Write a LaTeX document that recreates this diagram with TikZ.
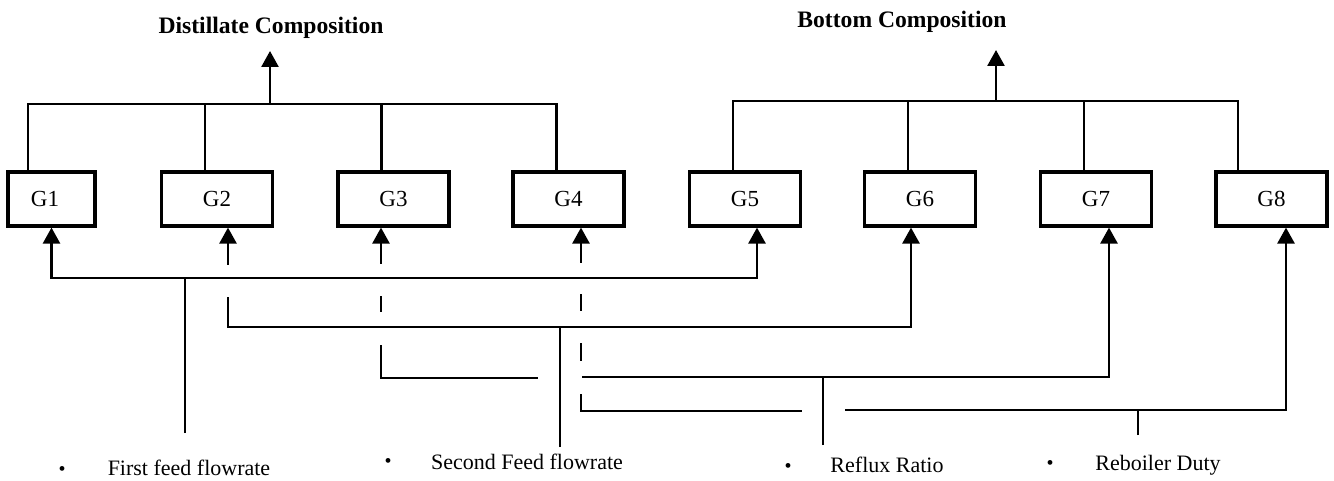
\documentclass[tikz,border=0pt]{standalone}
\usepackage{fontspec}
\setmainfont{Liberation Serif}
\usetikzlibrary{arrows.meta}
\begin{document}
\begin{tikzpicture}[x=0.5pt,y=-0.5pt,
  wire/.style={line width=1.3pt},
  arr/.style={wire,-{Triangle[length=8pt,width=8.5pt]}},
  gbox/.style={draw,line width=1.6pt,minimum width=55.5pt,minimum height=27pt,inner sep=0pt,
    font=\fontsize{11.5}{13}\selectfont},
  ttl/.style={inner sep=0pt,font=\fontsize{11.8}{14}\selectfont\bfseries},
  lbl/.style={inner sep=0pt,font=\fontsize{11}{13}\selectfont},
  bul/.style={inner sep=0pt,font=\fontsize{10}{11}\selectfont}]
\useasboundingbox (0,0) rectangle (1334,481);

% titles
\node[ttl] (dc) at (271,28) {Distillate Composition};
\node[ttl] (bc) at (902,22) {Bottom Composition};

% boxes
\node[gbox,minimum width=43.5pt] (g1) at (51.5,199) {G1\hspace*{6.5pt}};
\node[gbox] (g2) at (217,199) {G2};
\node[gbox] (g3) at (393.5,199) {G3};
\node[gbox] (g4) at (568.5,199) {G4};
\node[gbox] (g5) at (745,199) {G5};
\node[gbox] (g6) at (920,199) {G6};
\node[gbox] (g7) at (1096,199) {G7};
\node[gbox] (g8) at (1271.5,199) {G8};

% output trees
\coordinate (dbar) at (270,104);
\coordinate (dtip) at (270,51);
\coordinate (bbar) at (996,101);
\coordinate (btip) at (996,50);
\draw[wire] ([xshift=-11.75pt]g1.north) |- (dbar) -| ([xshift=-6pt]g4.north);
\draw[wire] ([xshift=-6pt]g2.north) |- (dbar);
\draw[wire] ([xshift=-6pt]g3.north) |- (dbar);
\draw[arr] (dbar) -- (dtip);
\draw[wire] ([xshift=-6pt]g5.north) |- (bbar) -| ([xshift=-16.75pt]g8.north);
\draw[wire] ([xshift=-6pt]g6.north) |- (bbar);
\draw[wire] ([xshift=-6pt]g7.north) |- (bbar);
\draw[arr] (bbar) -- (btip);

% first feed flowrate
\coordinate (fa) at (185,278);
\coordinate (ff) at (185,433);
\draw[wire] (ff) -- (fa);
\draw[arr] (fa) -| (g1.south);
\draw[arr] (fa) -| ([xshift=6pt]g5.south);

% short arrows into G2, G3, G4
\draw[arr] ([xshift=5.5pt,yshift=-18.5pt]g2.south) -- ([xshift=5.5pt]g2.south);
\draw[arr] ([xshift=-6.25pt,yshift=-18pt]g3.south) -- ([xshift=-6.25pt]g3.south);
\draw[arr] ([xshift=6.25pt,yshift=-17.5pt]g4.south) -- ([xshift=6.25pt]g4.south);

% second feed flowrate
\coordinate (s2) at (228,297);
\coordinate (sa) at (560,327);
\coordinate (sf) at (560,447);
\draw[wire] (s2) |- (sa);
\draw[wire] (sf) -- (sa);
\draw[arr] (sa) -| ([xshift=-4.5pt]g6.south);

% reflux ratio
\coordinate (d3a) at (381,296);
\coordinate (d3b) at (381,312);
\draw[wire] (d3a) -- (d3b);
\coordinate (r3) at (381,345);
\coordinate (r3e) at (538,378);
\draw[wire] (r3) |- (r3e);
\coordinate (r3s) at (582,377);
\coordinate (ra) at (823,377);
\coordinate (rf) at (823,445);
\draw[wire] (r3s) -- (ra);
\draw[wire] (rf) -- (ra);
\draw[arr] (ra) -| ([xshift=6.5pt]g7.south);

% reboiler duty
\coordinate (d4a) at (581,294);
\coordinate (d4b) at (581,311);
\coordinate (d4c) at (581,343);
\coordinate (d4d) at (581,361);
\draw[wire] (d4a) -- (d4b);
\draw[wire] (d4c) -- (d4d);
\coordinate (q4) at (581,394);
\coordinate (q4e) at (802,411);
\draw[wire] (q4) |- (q4e);
\coordinate (q4s) at (845,410);
\coordinate (qa) at (1138,410);
\coordinate (qf) at (1138,435);
\draw[wire] (q4s) -- (qa);
\draw[wire] (qf) -- (qa);
\draw[arr] (qa) -| ([xshift=7.25pt]g8.south);

% labels
\node[bul] (b1) at (62,471) {\textbullet};
\node[lbl] (l1) at (189,468) {First feed flowrate};
\node[bul] (b2) at (388,463) {\textbullet};
\node[lbl] (l2) at (527,462) {Second Feed flowrate};
\node[bul] (b3) at (788,468) {\textbullet};
\node[lbl] (l3) at (887,465) {Reflux Ratio};
\node[bul] (b4) at (1050,465) {\textbullet};
\node[lbl] (l4) at (1158,465) {Reboiler Duty};
\end{tikzpicture}
\end{document}
